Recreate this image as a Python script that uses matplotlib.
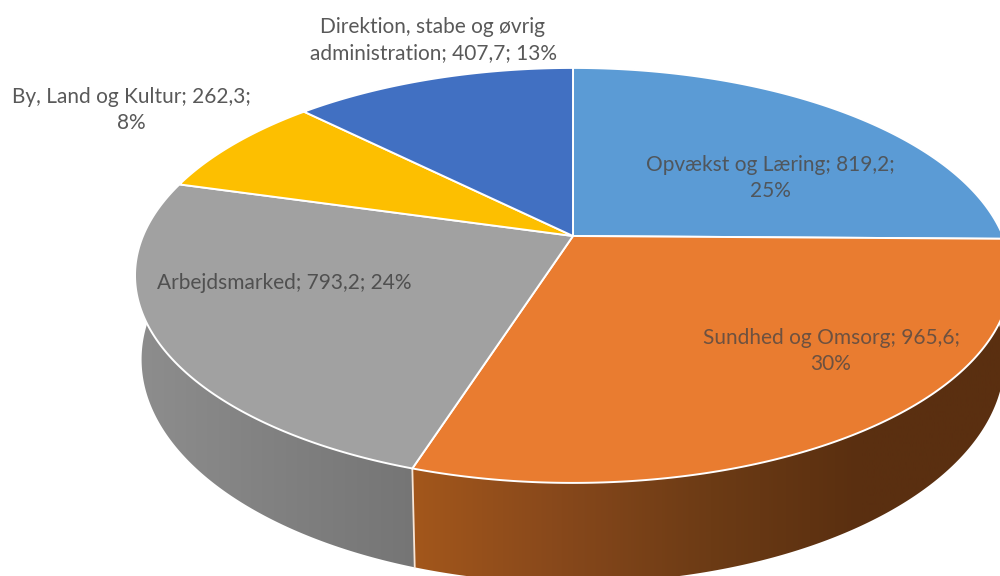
import numpy as np
import matplotlib
matplotlib.use('Agg')
import matplotlib.pyplot as plt
from matplotlib.colors import LinearSegmentedColormap
from matplotlib.patches import Polygon

plt.rcParams['font.family'] = ['Lato', 'DejaVu Sans']

names = ['Opvækst og Læring', 'Sundhed og Omsorg', 'Arbejdsmarked', 'By, Land og Kultur',
         'Direktion, stabe og øvrig administration']
values = [819.2, 965.6, 793.2, 262.3, 407.7]
percents = [25, 30, 24, 8, 13]
colors = ['#5b9bd5', '#e97c30', '#a1a1a1', '#fdbf00', '#4170c2']

# pie lies flat and is seen in perspective, pixel geometry of the picture
cx, cy = 573, 236
rx, ry = 430, 200
k = 0.19
depth = 81
inset = 0.985


def project(theta, drop=0):
    # theta in radians, clockwise from the top of the pie
    u = np.sin(theta)
    v = -np.cos(theta)
    d = 1 - k * v
    scale = inset if drop else 1
    return cx + rx * u / d * scale, cy + ry * v / d + drop / d


fig = plt.figure(figsize=(10, 5.76), dpi=100)
ax = fig.add_axes([0, 0, 1, 1])
ax.axis('off')

edges = np.cumsum([0] + values) / sum(values) * 2 * np.pi


def side(t0, t1, x0, x1, stops):
    ts = np.linspace(t0, t1, 300)
    xa, ya = project(ts)
    xb, yb = project(ts, depth)
    poly = Polygon(np.c_[np.r_[xa, xb[::-1]], np.r_[ya, yb[::-1]]], closed=True, fc='none', ec='none')
    ax.add_patch(poly)
    cmap = LinearSegmentedColormap.from_list('side', stops)
    im = ax.imshow(np.linspace(0, 1, 256)[None, :], cmap=cmap, extent=[x0, x1, 576, 0],
                   aspect='auto', zorder=1)
    im.set_clip_path(poly)


# orange side, then the gray one, shaded left to right
side(np.pi / 2, edges[2], 412, 1010,
     [(0, '#a3571c'), (0.25, '#87481b'), (0.5, '#6c3b15'), (0.75, '#5a2f10'), (1, '#5a2f10')])
side(edges[2], edges[3] - 0.3, 130, 417, ['#8e8e8e', '#818181', '#757575'])
ax.set_xlim(0, 1000)
ax.set_ylim(576, 0)

xa, ya = project(edges[2])
xb, yb = project(edges[2], depth)
ax.plot([xa, xb], [ya, yb], color='#f7e6d8', lw=1.3, zorder=2)

for i in range(len(values)):
    ts = np.linspace(edges[i], edges[i + 1], 200)
    xs, ys = project(ts)
    ax.fill(np.r_[cx, xs], np.r_[cy, ys], facecolor=colors[i], edgecolor='white', lw=1.4,
            joinstyle='round', zorder=3)

labels = [
    (770, 178, 'Opvækst og Læring; 819,2;\n25%', '#50565c'),
    (831, 351, 'Sundhed og Omsorg; 965,6;\n30%', '#6d5140'),
    (284, 283, 'Arbejdsmarked; 793,2; 24%', '#505050'),
    (131, 110, 'By, Land og Kultur; 262,3;\n8%', '#595959'),
    (433, 40, 'Direktion, stabe og øvrig\nadministration; 407,7; 13%', '#595959'),
]
for x, y, s, c in labels:
    ax.text(x, y, s, ha='center', va='center', color=c, fontsize=15, linespacing=1.42, zorder=4)

fig.savefig('out.png', dpi=100)
